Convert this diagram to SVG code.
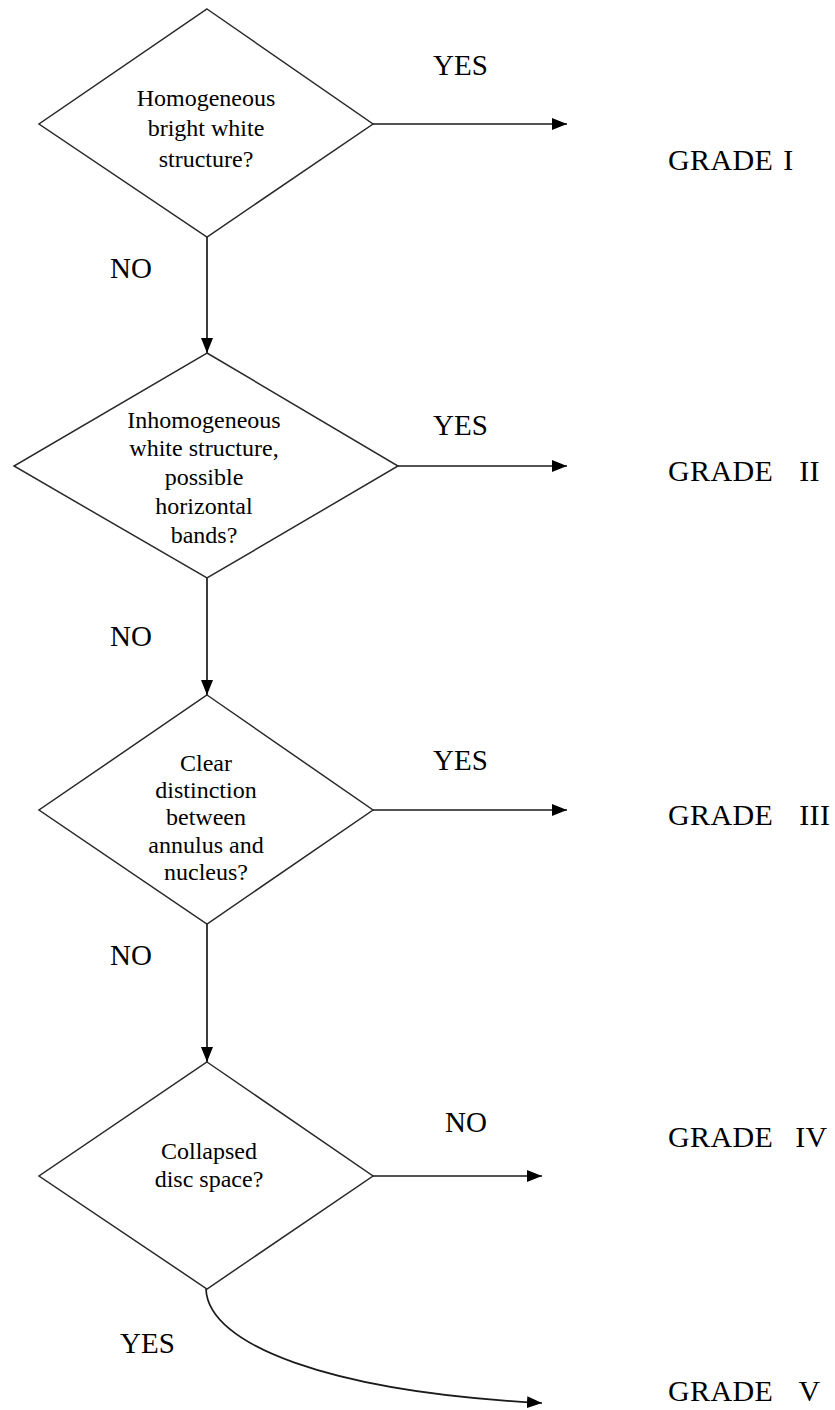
<svg xmlns="http://www.w3.org/2000/svg" width="835" height="1410" viewBox="0 0 835 1410" font-family="'Liberation Serif', 'Times New Roman', Times, 'DejaVu Serif', serif">
  <style>
    .decision { fill: #ffffff; stroke: #2a2a2a; stroke-width: 1.5; }
    .q { font-size: 24px; fill: #000000; text-anchor: middle; }
    .lbl { font-size: 29px; fill: #000000; }
    .grade { font-size: 30px; fill: #000000; white-space: pre; letter-spacing: 0.4px; }
    .edge { fill: none; stroke: #1a1a1a; stroke-width: 1.7; }
  </style>
  <defs>
    <marker id="arrow" markerUnits="userSpaceOnUse" markerWidth="16" markerHeight="13" refX="15" refY="6" orient="auto">
      <path d="M0,0 L15,6 L0,12 z" fill="#000000"/>
    </marker>
  </defs>
  <rect x="0" y="0" width="835" height="1410" fill="#ffffff"/>

  <!-- connectors -->
  <g id="connectors">
    <line class="edge" x1="373" y1="124" x2="567" y2="124" marker-end="url(#arrow)"/>
    <line class="edge" x1="207" y1="237" x2="207" y2="353" marker-end="url(#arrow)"/>
    <line class="edge" x1="398" y1="466" x2="567" y2="466" marker-end="url(#arrow)"/>
    <line class="edge" x1="207" y1="578" x2="207" y2="695" marker-end="url(#arrow)"/>
    <line class="edge" x1="373" y1="810" x2="567" y2="810" marker-end="url(#arrow)"/>
    <line class="edge" x1="207" y1="924" x2="207" y2="1062" marker-end="url(#arrow)"/>
    <line class="edge" x1="373" y1="1176" x2="542" y2="1176" marker-end="url(#arrow)"/>
    <path class="edge" d="M206,1289 C208,1345 330,1392 542,1403" marker-end="url(#arrow)"/>
  </g>

  <!-- branch labels -->
  <g id="edge-labels">
    <text class="lbl" x="433" y="75">YES</text>
    <text class="lbl" x="110" y="278">NO</text>
    <text class="lbl" x="433" y="435">YES</text>
    <text class="lbl" x="110" y="646">NO</text>
    <text class="lbl" x="433" y="770">YES</text>
    <text class="lbl" x="110" y="965">NO</text>
    <text class="lbl" x="445" y="1132">NO</text>
    <text class="lbl" x="120" y="1353">YES</text>
  </g>

  <!-- decisions -->
  <g id="q1">
    <polygon class="decision" points="207,9 373,124 207,237 39,124"/>
    <text class="q" x="206" y="106">Homogeneous</text>
    <text class="q" x="206" y="136">bright white</text>
    <text class="q" x="206" y="167">structure?</text>
  </g>
  <g id="q2">
    <polygon class="decision" points="207,353 398,466 207,578 14,466"/>
    <text class="q" x="204" y="428">Inhomogeneous</text>
    <text class="q" x="204" y="456">white structure,</text>
    <text class="q" x="204" y="485">possible</text>
    <text class="q" x="204" y="514">horizontal</text>
    <text class="q" x="204" y="543">bands?</text>
  </g>
  <g id="q3">
    <polygon class="decision" points="207,695 373,810 207,924 39,810"/>
    <text class="q" x="206" y="771">Clear</text>
    <text class="q" x="206" y="798">distinction</text>
    <text class="q" x="206" y="825">between</text>
    <text class="q" x="206" y="853">annulus and</text>
    <text class="q" x="206" y="880">nucleus?</text>
  </g>
  <g id="q4">
    <polygon class="decision" points="207,1062 373,1176 207,1289 39,1176"/>
    <text class="q" x="209" y="1159">Collapsed</text>
    <text class="q" x="209" y="1187">disc space?</text>
  </g>

  <!-- outcomes -->
  <g id="grade1"><text class="grade" x="668" y="170" word-spacing="-3">GRADE  I</text></g>
  <g id="grade2"><text class="grade" x="668" y="481" word-spacing="5">GRADE  II</text></g>
  <g id="grade3"><text class="grade" x="668" y="825" word-spacing="5">GRADE  III</text></g>
  <g id="grade4"><text class="grade" x="668" y="1147" word-spacing="3">GRADE  IV</text></g>
  <g id="grade5"><text class="grade" x="668" y="1401" word-spacing="5">GRADE  V</text></g>
</svg>
